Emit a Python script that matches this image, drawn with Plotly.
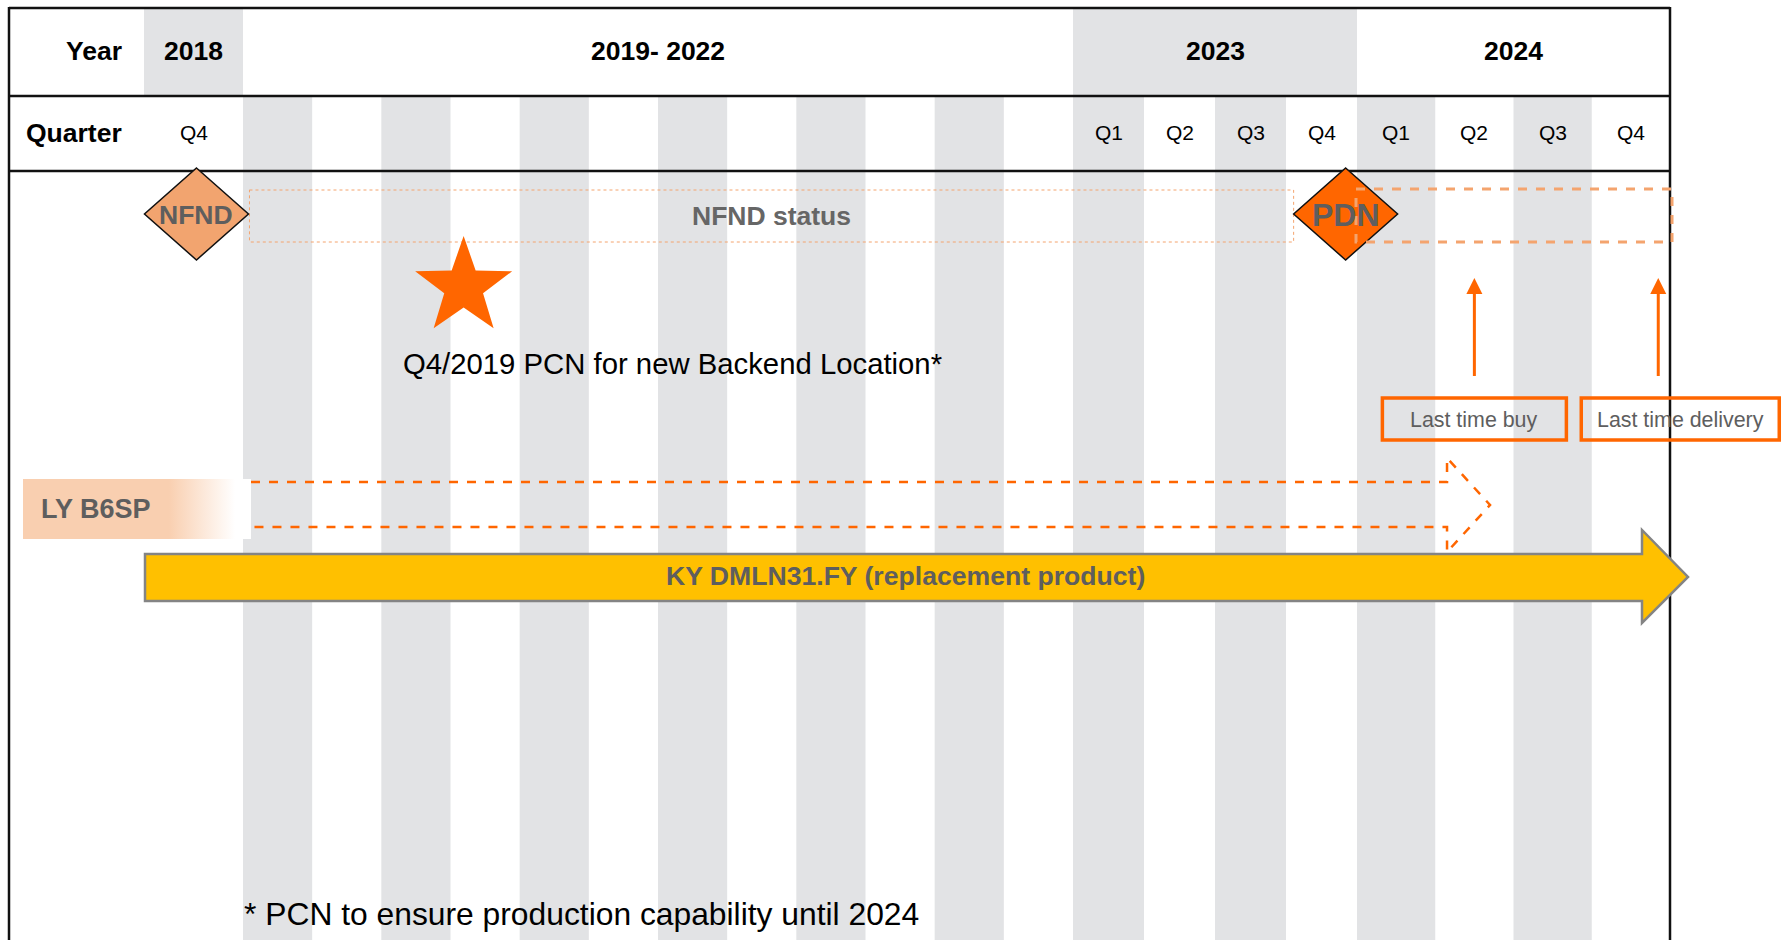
import math
import plotly.graph_objects as go

# ---------------- data ----------------
years = ["2018", "2019- 2022", "2023", "2024"]
year_quarters = [["Q4"], [""] * 12, ["Q1", "Q2", "Q3", "Q4"], ["Q1", "Q2", "Q3", "Q4"]]
row_labels = ["Year", "Quarter"]

milestone_names = ["NFND", "PDN"]
milestone_slots = [0.53, 16.84]
status_label = "NFND status"

pcn_slot = 4.19
pcn_label = "Q4/2019 PCN for new Backend Location*"

deadline_labels = ["Last time buy", "Last time delivery"]
deadline_slots = [18.50, 20.85]

old_product = "LY B6SP"
old_product_end_slot = 18.70
new_product = "KY DMLN31.FY (replacement product)"
new_product_slots = [0.0, 21.23]

footnote = "* PCN to ensure production capability until 2024"

# ---------------- layout constants ----------------
W, H = 1783, 940
FONT = "Arial, 'Liberation Sans', sans-serif"
GRAY_BG = "#E2E3E5"
ORANGE = "#FF6600"
LIGHT_ORANGE = "#F4A46E"
TEXT_GRAY = "#5E5E5E"

FRAME_L, FRAME_R = 9, 1670
ROW_TOP, ROW_YEAR, ROW_Q = 8, 96, 171
group_px = [(144, 243), (243, 1073), (1073, 1357), (1357, 1670)]

# slot edges
edges = []
for (a, b), qs in zip(group_px, year_quarters):
    n = len(qs)
    w = (b - a) / n
    for k in range(n):
        edges.append(a + k * w)
edges.append(group_px[-1][1])


def xs(t):
    i = int(math.floor(t))
    if i < 0:
        i = 0
    if i >= len(edges) - 1:
        i = len(edges) - 2
    return edges[i] + (t - i) * (edges[i + 1] - edges[i])


shapes = []
annotations = []

# ---- background stripes ----
for g, ((a, b), qs) in enumerate(zip(group_px, year_quarters)):
    if g % 2 == 0:
        shapes.append(dict(type="rect", x0=a, x1=b, y0=ROW_TOP, y1=ROW_YEAR,
                           fillcolor=GRAY_BG, line=dict(width=0), layer="below"))
    if g == 0:
        continue
    w = (b - a) / len(qs)
    for k in range(len(qs)):
        if k % 2 == 0:
            shapes.append(dict(type="rect", x0=a + k * w, x1=a + (k + 1) * w,
                               y0=ROW_YEAR, y1=H + 5,
                               fillcolor=GRAY_BG, line=dict(width=0), layer="below"))

# ---- header text ----
YEAR_Y = (ROW_TOP + ROW_YEAR) / 2 - 1
Q_Y = (ROW_YEAR + ROW_Q) / 2 - 1
annotations.append(dict(x=124, y=YEAR_Y, text="<b>%s</b>" % row_labels[0],
                        xanchor="right", font=dict(size=26.5, color="black")))
annotations.append(dict(x=124, y=Q_Y, text="<b>%s</b>" % row_labels[1],
                        xanchor="right", font=dict(size=26.5, color="black")))
for (a, b), yname, qs in zip(group_px, years, year_quarters):
    annotations.append(dict(x=(a + b) / 2, y=YEAR_Y,
                            text="<b>%s</b>" % yname, font=dict(size=26.5, color="black")))
    w = (b - a) / len(qs)
    for k, q in enumerate(qs):
        if q:
            annotations.append(dict(x=a + (k + 0.5) * w, y=Q_Y,
                                    text=q, font=dict(size=21, color="black")))

# ---- frame lines ----
for y in (ROW_TOP, ROW_YEAR, ROW_Q):
    shapes.append(dict(type="line", x0=FRAME_L, x1=FRAME_R, y0=y, y1=y,
                       line=dict(color="#111111", width=2.5)))
for x in (FRAME_L, FRAME_R):
    shapes.append(dict(type="line", x0=x, x1=x, y0=ROW_TOP - 1, y1=H + 5,
                       line=dict(color="#111111", width=2.5)))

# ---- milestone row ----
MY = 214
DHW, DHH = 52, 46
nf_x = xs(milestone_slots[0])
pdn_x = xs(milestone_slots[1])

# NFND status dotted box
shapes.append(dict(type="rect", x0=nf_x + DHW + 1, x1=pdn_x - DHW, y0=MY - 24, y1=MY + 28,
                   line=dict(color=LIGHT_ORANGE, width=1, dash="dot")))
annotations.append(dict(x=(nf_x + pdn_x) / 2, y=MY + 2, text="<b>%s</b>" % status_label,
                        font=dict(size=26.5, color="#666666")))

fills = ["#F2A46F", ORANGE]
sizes = [26.5, 32]
for name, xc, fc, fs in zip(milestone_names, [nf_x, pdn_x], fills, sizes):
    path = "M %f %f L %f %f L %f %f L %f %f Z" % (xc, MY - DHH, xc + DHW, MY,
                                                  xc, MY + DHH, xc - DHW, MY)
    shapes.append(dict(type="path", path=path, fillcolor=fc,
                       line=dict(color="#111111", width=1.5)))
    annotations.append(dict(x=xc, y=MY + 1, text="<b>%s</b>" % name,
                            font=dict(size=fs, color=TEXT_GRAY)))

# PDN dashed box (after PDN)
shapes.append(dict(type="rect", x0=xs(17.0) - 1, x1=FRAME_R + 2, y0=MY - 25, y1=MY + 28,
                   line=dict(color=LIGHT_ORANGE, width=3, dash="dash")))

# ---- PCN star ----
sx, sy, R = xs(pcn_slot), 287, 51
pts = []
for k in range(10):
    r = R if k % 2 == 0 else R * 0.40
    ang = -math.pi / 2 + k * math.pi / 5
    pts.append((sx + r * math.cos(ang), sy + r * math.sin(ang)))
star_path = "M " + " L ".join("%f %f" % p for p in pts) + " Z"
shapes.append(dict(type="path", path=star_path, fillcolor=ORANGE, line=dict(width=0)))
annotations.append(dict(x=sx - 63, y=363, text=pcn_label, xanchor="left",
                        font=dict(size=29.3, color="black")))

# ---- last time buy / delivery ----
box_offsets = [(-92, 92), (-77, 121)]
for lab, t, (o0, o1) in zip(deadline_labels, deadline_slots, box_offsets):
    ax = xs(t)
    shapes.append(dict(type="line", x0=ax, x1=ax, y0=376, y1=292,
                       line=dict(color=ORANGE, width=3)))
    shapes.append(dict(type="path",
                       path="M %f 278 L %f 294 L %f 294 Z" % (ax, ax - 8, ax + 8),
                       fillcolor=ORANGE, line=dict(width=0)))
    shapes.append(dict(type="rect", x0=ax + o0, x1=ax + o1, y0=398, y1=440,
                       line=dict(color=ORANGE, width=3.5)))
    annotations.append(dict(x=ax + (o0 + o1) / 2, y=420, text=lab,
                            font=dict(size=21.4, color=TEXT_GRAY)))

# ---- old product (dashed arrow) ----
old_tip = xs(old_product_end_slot)
old_body_end = old_tip - 43
old_path = ("M 251 482 L %f 482 L %f 458 L %f 505 L %f 552 L %f 527 L 251 527"
            % (old_body_end, old_body_end, old_tip, old_body_end, old_body_end))
shapes.append(dict(type="path", path=old_path, line=dict(color=ORANGE, width=2.5, dash="dash")))

# ---- new product (solid yellow arrow) ----
nx0, ntip = xs(new_product_slots[0]) + 1, xs(new_product_slots[1])
nhead = ntip - 46
new_path = ("M %f 554 L %f 554 L %f 530 L %f 577 L %f 623 L %f 601 L %f 601 Z"
            % (nx0, nhead, nhead, ntip, nhead, nhead, nx0))
shapes.append(dict(type="path", path=new_path, fillcolor="#FFC000",
                   line=dict(color="#848484", width=2.5)))
annotations.append(dict(x=905, y=576, text="<b>%s</b>" % new_product,
                        font=dict(size=26.6, color=TEXT_GRAY)))

# ---- footnote ----
annotations.append(dict(x=242, y=914, text=footnote, xanchor="left",
                        font=dict(size=31.8, color="black")))

# ---- figure ----
fig = go.Figure()

# gradient label box for old product
fig.add_trace(go.Scatter(
    x=[23, 251, 251, 23, 23], y=[479, 479, 539, 539, 479],
    mode="lines", fill="toself", line=dict(width=0),
    fillgradient=dict(type="horizontal",
                      colorscale=[[0, "#F9CFB0"], [0.64, "#F9CFB0"],
                                  [0.93, "#FFFFFF"], [1, "#FFFFFF"]]),
    hoverinfo="skip", showlegend=False))
fig.add_trace(go.Scatter(
    x=[41], y=[511], mode="text", text=["<b>%s</b>" % old_product],
    textposition="middle right",
    textfont=dict(size=27, color=TEXT_GRAY, family=FONT),
    hoverinfo="skip", showlegend=False))

for a in annotations:
    a.setdefault("showarrow", False)
    a.setdefault("xref", "x")
    a.setdefault("yref", "y")
    a["font"].setdefault("family", FONT)
for s in shapes:
    s.setdefault("xref", "x")
    s.setdefault("yref", "y")

fig.update_layout(
    width=W, height=H,
    margin=dict(l=0, r=0, t=0, b=0, pad=0),
    paper_bgcolor="white", plot_bgcolor="white",
    xaxis=dict(range=[0, W], visible=False, showgrid=False, zeroline=False, fixedrange=True),
    yaxis=dict(range=[H, 0], visible=False, showgrid=False, zeroline=False, fixedrange=True),
    shapes=shapes, annotations=annotations,
    showlegend=False,
    font=dict(family=FONT),
)

fig.write_html("out.html", config={"displayModeBar": False},
               post_script="document.body.style.margin='0';document.body.style.overflow='hidden';")
